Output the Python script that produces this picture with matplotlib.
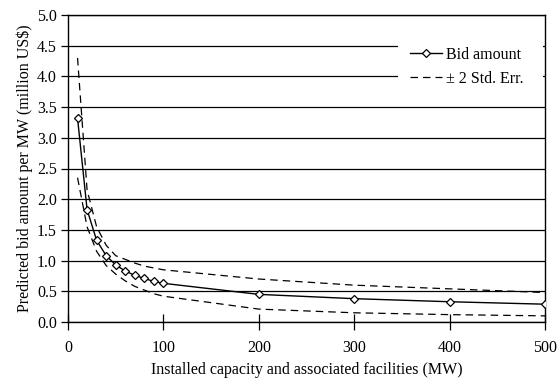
import numpy as np
import matplotlib
matplotlib.use('Agg')
import matplotlib.pyplot as plt
from matplotlib.patches import Rectangle

plt.rcParams['font.family'] = ['Liberation Serif', 'DejaVu Serif']

# installed capacity (MW)
capacity = [10, 20, 30, 40, 50, 60, 70, 80, 90, 100, 200, 300, 400, 500]
# predicted bid per MW (million US$)
bid = [3.32, 1.83, 1.33, 1.08, 0.93, 0.83, 0.76, 0.71, 0.66, 0.63, 0.45, 0.38, 0.33, 0.29]
upper = [4.30, 2.15, 1.55, 1.25, 1.08, 1.02, 0.96, 0.91, 0.88, 0.85, 0.70, 0.60, 0.54, 0.48]
lower = [2.35, 1.55, 1.15, 0.92, 0.78, 0.67, 0.58, 0.52, 0.46, 0.42, 0.21, 0.15, 0.12, 0.10]

fs = 11.5

fig = plt.figure(figsize=(5.59, 3.83), dpi=100)
ax = fig.add_axes([68/559, 1 - 322/383, (545-68)/559, (322-15)/383])

ax.plot(capacity, bid, color='black', lw=1, marker='D', markersize=4.5,
        markerfacecolor='white', markeredgecolor='black', markeredgewidth=0.9,
        label='Bid amount', zorder=3)
ax.plot(capacity, upper, color='black', lw=0.9, dashes=(6, 4), label='\u00b1 2 Std. Err.')
ax.plot(capacity, lower, color='black', lw=0.9, dashes=(6, 4))

ax.set_xlim(0, 500)
ax.set_ylim(0, 5)
ax.set_xticks(np.arange(0, 501, 100))
ax.set_yticks(np.arange(0, 5.01, 0.5))
ax.set_yticklabels(['%.1f' % v for v in np.arange(0, 5.01, 0.5)])
ax.yaxis.grid(True, color='black', lw=0.9)
ax.set_axisbelow(True)

ax.tick_params(axis='x', direction='inout', length=11, width=0.9, labelsize=fs, pad=7.5)
ax.tick_params(axis='y', direction='out', length=5, width=0.9, labelsize=fs, pad=3)
for s in ax.spines.values():
    s.set_linewidth(1)

ax.set_xlabel('Installed capacity and associated facilities (MW)', fontsize=fs, labelpad=4)
ax.set_ylabel('Predicted bid amount per MW (million US$)', fontsize=fs, labelpad=3)

# white legend area hiding the grid
ax.add_patch(Rectangle((0.692, 0.745), 0.304, 0.19, transform=ax.transAxes,
                       facecolor='white', edgecolor='none', zorder=1.5))

leg = ax.legend(loc='upper left', bbox_to_anchor=(0.703, 0.918), borderaxespad=0,
                fontsize=fs, frameon=False, handlelength=2.0,
                handletextpad=0.3, labelspacing=0.5, borderpad=0.4)

fig.savefig('out.png', dpi=100)
